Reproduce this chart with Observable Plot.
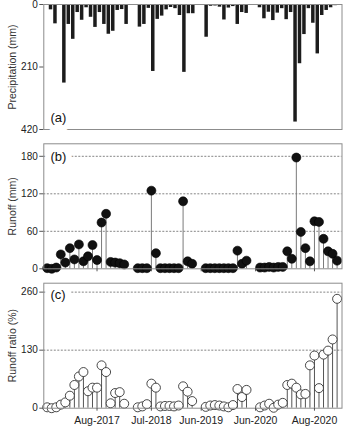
<!DOCTYPE html>
<html>
<head>
<meta charset="utf-8">
<script src="https://cdn.jsdelivr.net/npm/d3@7"></script>
<script src="https://cdn.jsdelivr.net/npm/@observablehq/plot@0.6"></script>
<style>
  html, body { margin: 0; padding: 0; background: #fff; }
  #chart { width: 345px; height: 429px; }
  #chart svg { display: block; }
</style>
</head>
<body>
<div id="chart"></div>
<script>
// Sampling slots along the shared x axis; null marks a slot without a record.
const slots = d3.range(65);

// Precipitation per slot (mm)
const precipitation = [
  18, 65, 3, 264, 67, 117, 27, 53, 11, 43, 77, 27, 67, 100, 90, 20, 17, 67,
  null, null,
  76, 67, 13, 225, 50, 39, 18, 10, 14, 37, 228, 31, 31,
  null, null,
  110, 6, 5, 9, 52, 12, 7, 67, 27, 30,
  null, null,
  11, 48, 26, 54, 29, 14, 51, 27, 395, 199, 101, 14, 63, 166, 37, 20, 11, 4
];

// Runoff per slot (mm)
const runoff = [
  1, 0, 2, 23, 10, 33, 15, 39, 12, 20, 38, 14, 74, 88, 11, 10, 9, 7,
  null, null,
  1, 1, 1, 125, 25, 1, 1, 1, 1, 1, 108, 12, 8,
  null, null,
  1, 1, 1, 1, 1, 1, 1, 29, 8, 13,
  null, null,
  2, 2, 3, 2, 3, 3, 28, 16, 178, 59, 33, 12, 76, 75, 48, 28, 24, 13
];

// Runoff ratio per slot (%)
const runoffRatio = [
  2, 0, 2, 8, 13, 28, 52, 71, 81, 38, 46, 46, 96, 81, 11, 34, 36, 10,
  null, null,
  2, 4, 9, 55, 46, 4, 5, 5, 4, 6, 49, 37, 16,
  null, null,
  3, 6, 7, 6, 4, 2, 7, 43, 25, 41,
  null, null,
  2, 6, 10, 1, 8, 12, 52, 55, 46, 31, 32, 96, 118, 45, 120, 129, 154, 245
];

// Date labels on the shared x axis
const tickSlots = [11, 23, 34, 46, 59];
const tickLabels = ["Aug-2017", "Jul-2018", "Jun-2019", "Jun-2020", "Aug-2020"];

const records = slots
  .map(i => ({slot: i, p: precipitation[i], q: runoff[i], ratio: runoffRatio[i]}))
  .filter(d => d.p != null);

const font = "'Liberation Sans', Arial, sans-serif";
const baseStyle = {fontFamily: font, fontSize: "10px", color: "#222", background: "white", overflow: "visible"};
const left = 43.3, right = 3.5;
const xPoints = {domain: [-0.75, 65.08]};   // runoff / ratio panels
const xBars = {domain: [-1.51, 65.56]};     // precipitation panel
const frameStroke = "#8c8c8c";
const gridStyle = {stroke: "#666", strokeWidth: 0.8, strokeDasharray: "2,1.5"};

function yTitle(text) {
  return Plot.text([text], {frameAnchor: "left", rotate: -90, dx: -31, textAnchor: "middle",
    lineAnchor: "middle", fontSize: 10.5, fill: "#333"});
}
function panelTag(text, anchor, dy) {
  return Plot.text([text], {frameAnchor: anchor, dx: 6.7, dy, textAnchor: "start", lineAnchor: "middle",
    fontSize: 13, fill: "#111", stroke: "white", strokeWidth: 12, paintOrder: "stroke"});
}

// (a) precipitation, hanging from the top
const plotA = Plot.plot({
  width: 345, height: 136, marginTop: 4, marginBottom: 7, marginLeft: left, marginRight: right,
  style: baseStyle,
  x: {...xBars, axis: null},
  y: {domain: [0, 420], reverse: true, axis: null},
  marks: [
    Plot.ruleX(records, {x: "slot", y1: 0, y2: "p", stroke: "#1c1c1c", strokeWidth: 3.5}),
    Plot.frame({stroke: frameStroke}),
    Plot.axisY({ticks: [0, 210, 420], tickSize: 4, tickPadding: 2, label: null, stroke: "#555"}),
    yTitle("Precipitation (mm)"),
    panelTag("(a)", "bottom-left", -11.8)
  ]
});

// (b) runoff lollipops
const plotB = Plot.plot({
  width: 345, height: 139, marginTop: 7.3, marginBottom: 6.7, marginLeft: left, marginRight: right,
  style: baseStyle,
  x: {...xPoints, axis: null},
  y: {domain: [0, 200], axis: null},
  marks: [
    Plot.ruleY([60, 120, 180], gridStyle),
    Plot.ruleX(records, {x: "slot", y1: 0, y2: "q", stroke: "#7a7a7a", strokeWidth: 1}),
    Plot.dot(records, {x: "slot", y: "q", r: 4.5, fill: "#111", stroke: "#000", strokeWidth: 0.6}),
    Plot.frame({stroke: frameStroke}),
    Plot.axisY({ticks: [0, 60, 120, 180], tickSize: 4, tickPadding: 2, label: null, stroke: "#555"}),
    Plot.axisX({ticks: tickSlots, tickSize: 3, tickFormat: () => "", label: null, stroke: "#555"}),
    yTitle("Runoff (mm)"),
    panelTag("(b)", "top-left", 13.4)
  ]
});

// (c) runoff ratio lollipops
const plotC = Plot.plot({
  width: 345, height: 154, marginTop: 7.7, marginBottom: 21.3, marginLeft: left, marginRight: right,
  style: baseStyle,
  x: {...xPoints, axis: null},
  y: {domain: [0, 280], axis: null},
  marks: [
    Plot.ruleY([130, 260], gridStyle),
    Plot.ruleX(records, {x: "slot", y1: 0, y2: "ratio", stroke: "#555", strokeWidth: 1}),
    Plot.dot(records, {x: "slot", y: "ratio", r: 4.5, fill: "white", stroke: "#333", strokeWidth: 0.9}),
    Plot.frame({stroke: frameStroke}),
    Plot.axisY({ticks: [0, 130, 260], tickSize: 4, tickPadding: 2, label: null, stroke: "#555"}),
    Plot.axisX({ticks: tickSlots, tickSize: 3, tickPadding: 5, label: null, stroke: "#555",
      tickFormat: d => tickLabels[tickSlots.indexOf(d)], fontSize: 10.5}),
    yTitle("Runoff ratio (%)"),
    panelTag("(c)", "top-left", 11.3)
  ]
});

const chart = document.getElementById("chart");
chart.append(plotA, plotB, plotC);
</script>
</body>
</html>
